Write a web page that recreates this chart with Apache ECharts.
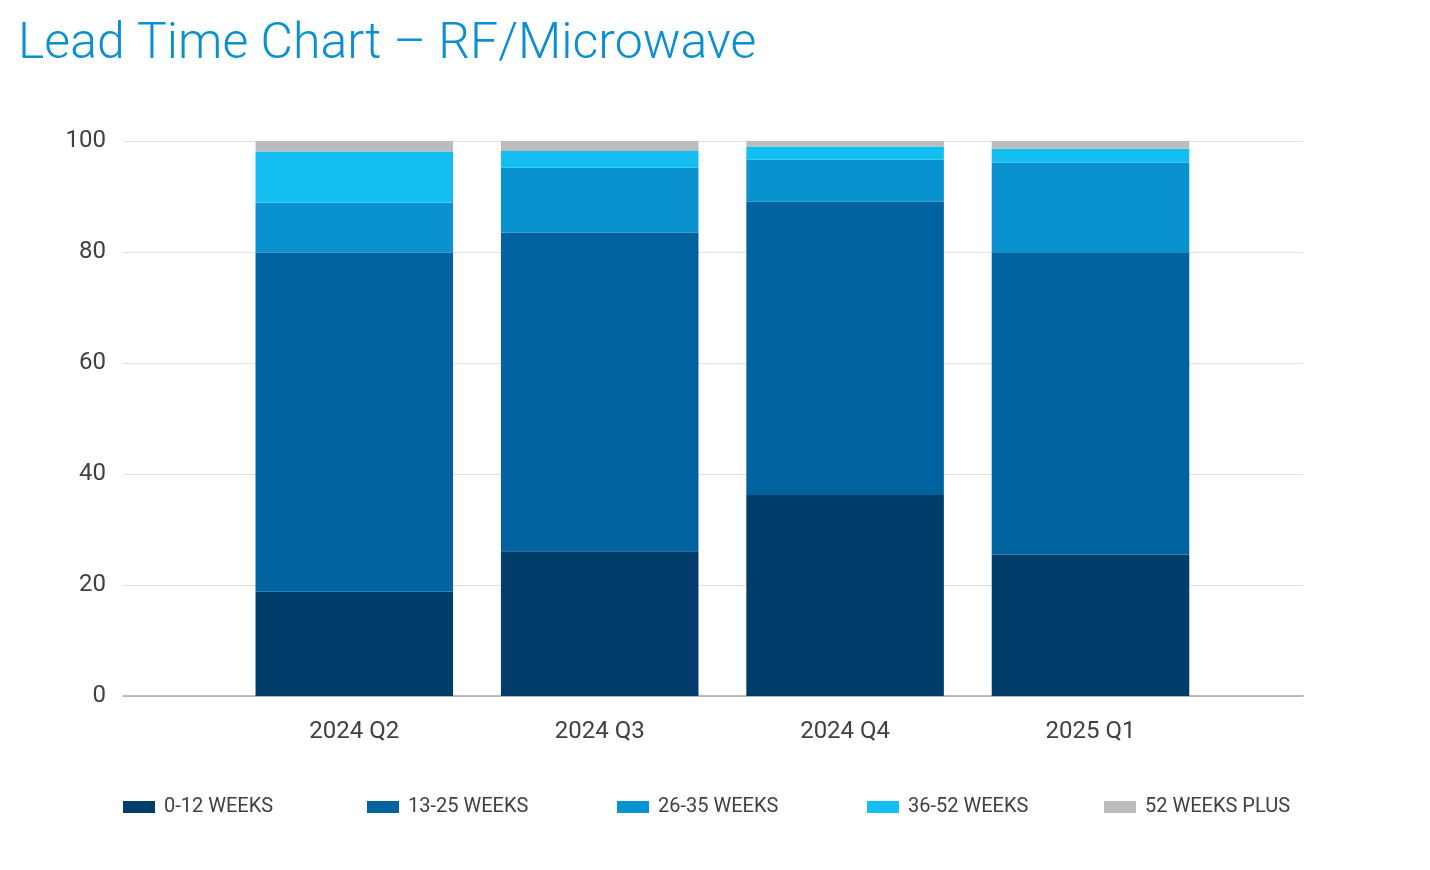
<!DOCTYPE html>
<html>
<head>
<meta charset="utf-8">
<script src="https://cdn.jsdelivr.net/npm/echarts@6/dist/echarts.min.js"></script>
<style>html,body{margin:0;padding:0;background:#fff;}#c{width:1430px;height:870px;}</style>
</head>
<body>
<div id="c"></div>
<script>
const categories = ['2024 Q2', '2024 Q3', '2024 Q4', '2025 Q1'];
const seriesNames = ['0-12 WEEKS', '13-25 WEEKS', '26-35 WEEKS', '36-52 WEEKS', '52 WEEKS PLUS'];
const w0_12 = [18.8, 26.1, 36.2, 25.5];
const w13_25 = [61.1, 57.4, 52.9, 54.3];
const w26_35 = [9.0, 11.7, 7.5, 16.3];
const w36_52 = [9.2, 3.0, 2.4, 2.5];
const w52plus = [1.9, 1.8, 1.0, 1.4];
const yTicks = [0, 20, 40, 60, 80, 100];
const colors = ['#013d6a', '#0063a0', '#0a91cf', '#14bef0', '#bbbcbe'];

const values = [w0_12, w13_25, w26_35, w36_52, w52plus];
const legendLefts = [123, 367, 617, 867, 1104];
const font = 'Roboto, "Noto Sans", sans-serif';

const chart = echarts.init(document.getElementById('c'), null, {renderer: 'canvas'});
chart.setOption({
  backgroundColor: '#ffffff',
  animation: false,
  title: {
    text: 'Lead Time Chart – RF/Microwave',
    left: 13, top: 15,
    textStyle: {fontFamily: font, fontWeight: 300, fontSize: 50, color: '#0a8fd0'}
  },
  legend: seriesNames.map((n, i) => ({
    data: [n], left: legendLefts[i], top: 797, padding: 0,
    itemWidth: 32, itemHeight: 12, itemGap: 0,
    icon: 'rect',
    textStyle: {fontFamily: font, fontSize: 20, color: '#404040', padding: [0, 0, 0, 4]}
  })),
  grid: [
    {left: 123, right: 127, top: 141, bottom: 174},
    {left: 231.6, right: 216.8, top: 141, bottom: 174}
  ],
  xAxis: [
    {gridIndex: 0, type: 'category', data: [''], axisLine: {lineStyle: {color: '#a6a6a6', width: 1.5}}, axisTick: {show: false}, axisLabel: {show: false}},
    {gridIndex: 1, type: 'category', data: categories, axisLine: {show: false}, axisTick: {show: false},
      axisLabel: {fontFamily: font, fontSize: 24, color: '#404040', margin: 24}}
  ],
  yAxis: [
    {gridIndex: 0, type: 'value', min: yTicks[0], max: yTicks[yTicks.length - 1], interval: 20,
      axisLine: {show: false}, axisTick: {show: false},
      axisLabel: {fontFamily: font, fontSize: 24, color: '#404040', margin: 17},
      splitLine: {lineStyle: {color: '#e0e0e0', width: 1}}},
    {gridIndex: 1, type: 'value', min: 0, max: 100, show: false, splitLine: {show: false}}
  ],
  series: seriesNames.map((n, i) => ({
    name: n, type: 'bar', stack: 'total', xAxisIndex: 1, yAxisIndex: 1,
    barWidth: '80.5%', data: values[i],
    itemStyle: {color: colors[i]}
  }))
});
</script>
</body>
</html>
